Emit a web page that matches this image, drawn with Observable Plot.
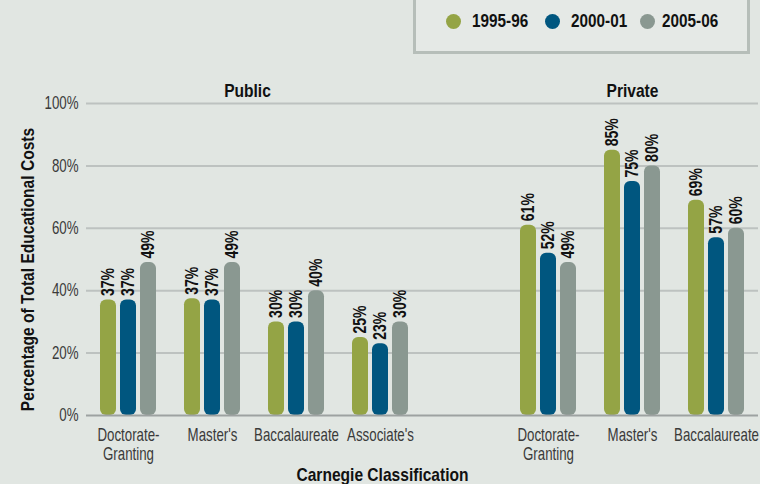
<!DOCTYPE html>
<html>
<head>
<meta charset="utf-8">
<script src="https://cdn.jsdelivr.net/npm/d3@7"></script>
<script src="https://cdn.jsdelivr.net/npm/@observablehq/plot@0.6"></script>
<style>
  html, body { margin: 0; padding: 0; background: #e1e6e2; }
  #page { position: relative; width: 760px; height: 484px; overflow: hidden; background: #e1e6e2;
    font-family: 'Liberation Sans', Arial, sans-serif; }
  #legendArea { position: relative; height: 60px; }
  #legendBox { position: absolute; left: 413px; top: -10px; width: 331px; height: 58px;
    border: 3px solid #b6beb9; background: #e5e9e6; }
  .dot { position: absolute; width: 15px; height: 15px; border-radius: 50%; top: 14px; }
  .ltxt { position: absolute; top: 21px; font-weight: bold; font-size: 18px; color: #111;
    line-height: 1; transform: translateY(-50%) scaleX(0.85); transform-origin: left center; white-space: nowrap; }
  #chart svg { display: block; }
</style>
</head>
<body>
<div id="page">
  <div id="legendArea"><div id="legendBox"></div></div>
  <div id="chart"></div>
</div>
<script>
// ---- data ----
const categories = ["Doctorate-\nGranting", "Master's", "Baccalaureate", "Associate's"];
const sectors = ["Public", "Private"];
const years = ["1995-96", "2000-01", "2005-06"];
const colors = ["#94a445", "#00567f", "#8a9891"];
const public1995 = [37, 37.4, 30, 25];
const public2000 = [37, 37, 30, 23];
const public2005 = [49, 49, 40, 30];
const private1995 = [61, 85, 69];
const private2000 = [52, 75, 57];
const private2005 = [49, 80, 60];
const yTicks = [0, 20, 40, 60, 80, 100];

// ---- build table ----
const publicSeries = [public1995, public2000, public2005];
const privateSeries = [private1995, private2000, private2005];
const slots = [
  ...categories.map(c => "Public|" + c),
  "gap",
  ...categories.slice(0, 3).map(c => "Private|" + c)
];
const rows = [];
years.forEach((yr, i) => {
  publicSeries[i].forEach((v, j) => rows.push({slot: "Public|" + categories[j], year: yr, value: v}));
  privateSeries[i].forEach((v, j) => rows.push({slot: "Private|" + categories[j], year: yr, value: v}));
});

// ---- legend (HTML) ----
const page = document.getElementById("page");
const dotX = [446, 545, 640];
const txtX = [472, 571, 662];
years.forEach((yr, i) => {
  const dot = document.createElement("div");
  dot.className = "dot";
  dot.style.left = dotX[i] + "px";
  dot.style.background = colors[i];
  page.appendChild(dot);
  const t = document.createElement("div");
  t.className = "ltxt";
  t.style.left = txtX[i] + "px";
  t.textContent = yr;
  page.appendChild(t);
});

const font = "'Liberation Sans', Arial, sans-serif";
const ink = "#111";
const tickInk = "#3a3a3a";

const chart = Plot.plot({
  width: 760,
  height: 424,
  marginTop: 43,
  marginBottom: 69,
  marginLeft: 84,
  marginRight: 1,
  style: {background: "transparent", fontFamily: font, overflow: "visible"},
  fx: {domain: slots, padding: 0, label: null},
  x: {domain: years, paddingInner: 0.2, paddingOuter: 0.7, axis: null},
  y: {domain: [0, 100], axis: null},
  color: {domain: years, range: colors},
  marks: [
    // keeps the empty gap facet alive so the grid runs through it
    Plot.text([{slot: "gap"}], {fx: "slot", text: () => ""}),
    Plot.ruleY(yTicks.filter(t => t > 0), {stroke: "#bdc2c0", strokeWidth: 2}),
    Plot.barY(rows, {fx: "slot", x: "year", y: "value", fill: "year", rx: 6}),
    Plot.ruleY([0], {stroke: "#9da2a1", strokeWidth: 2}),
    Plot.text(rows, {
      fx: "slot", x: "year", y: "value",
      text: d => Math.round(d.value) + "%",
      rotate: -90, textAnchor: "start", lineAnchor: "middle", dy: -4,
      fontWeight: "bold", fontSize: 18, fill: ink
    }),
    // y tick labels (first facet only)
    Plot.text(yTicks.map(t => ({slot: slots[0], t})), {
      fx: "slot", y: "t", frameAnchor: "left", textAnchor: "end", lineAnchor: "middle",
      dx: -8, text: d => d.t + "%", fontSize: 17.5, fill: tickInk
    }),
    Plot.axisFx({
      anchor: "bottom", tickSize: 0, tickPadding: 12, label: null,
      tickFormat: d => (d.split("|")[1] ?? ""),
      fontSize: 17.5, lineHeight: 1.09, color: tickInk
    }),
    Plot.text([{slot: slots[1], t: sectors[0]}], {
      fx: "slot", frameAnchor: "top-right", text: "t", textAnchor: "middle",
      lineAnchor: "middle", dx: -7, dy: -12, fontWeight: "bold", fontSize: 17.5, fill: ink
    }),
    Plot.text([{slot: slots[6], t: sectors[1]}], {
      fx: "slot", frameAnchor: "top", text: "t", textAnchor: "middle",
      lineAnchor: "middle", dy: -12, fontWeight: "bold", fontSize: 17.5, fill: ink
    }),
    Plot.text([{slot: slots[0], t: "Percentage of Total Educational Costs"}], {
      fx: "slot", frameAnchor: "left", text: "t", rotate: -90, textAnchor: "middle",
      lineAnchor: "middle", dx: -58, dy: 10, fontWeight: "bold", fontSize: 17.5, fill: ink
    }),
    Plot.text([{slot: slots[3], t: "Carnegie Classification"}], {
      fx: "slot", frameAnchor: "bottom", text: "t", textAnchor: "middle",
      lineAnchor: "middle", dx: 2, dy: 60, fontWeight: "bold", fontSize: 17.5, fill: ink
    })
  ]
});
document.getElementById("chart").appendChild(chart);

// condense text horizontally (reference uses a condensed face)
chart.querySelectorAll("text").forEach(t => {
  const cs = getComputedStyle(t);
  const bold = cs.fontWeight === "bold" || +cs.fontWeight >= 600;
  const size = parseFloat(cs.fontSize);
  const s = bold ? (size >= 18 ? 0.78 : 0.89) : 0.76;
  let tr = t.getAttribute("transform");
  if (tr === null) {
    const x = +(t.getAttribute("x") || 0), y = +(t.getAttribute("y") || 0);
    t.removeAttribute("x"); t.removeAttribute("y");
    tr = `translate(${x},${y})`;
  }
  t.setAttribute("transform", tr + ` scale(${s},1)`);
});
</script>
</body>
</html>
